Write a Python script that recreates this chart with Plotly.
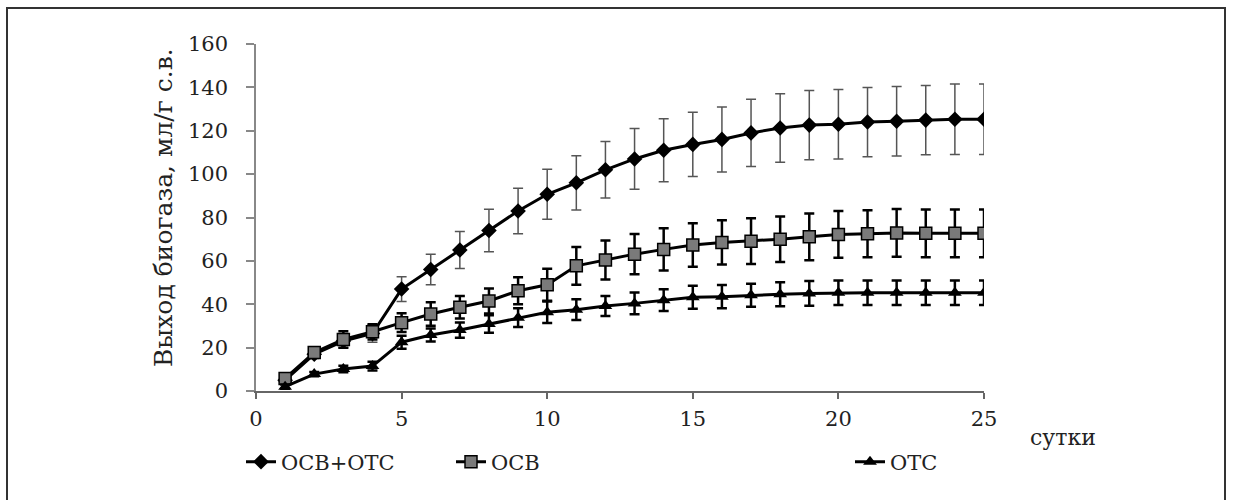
import plotly.graph_objects as go

days = list(range(1, 26))
osv_ots = [5, 17, 23, 26.5, 47, 56, 65, 74, 83, 90.7, 96, 102, 107, 111, 113.7, 116, 119, 121.3, 122.6, 123, 124, 124.4, 124.9, 125.3, 125.3]
osv_ots_err = [1, 2, 3, 4, 5.7, 7, 8.5, 9.8, 10.5, 11.5, 12.5, 13, 14, 14.5, 14.8, 15, 15.5, 15.8, 16, 16, 16, 16, 16, 16.2, 16.3]
osv = [5.8, 17.8, 23.8, 27.3, 31.5, 35.5, 38.6, 41.5, 46.2, 49, 57.7, 60.4, 63.1, 65.3, 67.3, 68.5, 69.1, 70, 71.1, 72.2, 72.5, 72.9, 72.7, 72.7, 72.7]
osv_err = [1, 2, 3.8, 3.5, 4.3, 5.4, 5.2, 5.8, 6.2, 7.4, 8.7, 9, 9.3, 9.7, 10, 10.2, 10.5, 10.5, 10.8, 10.8, 10.8, 11, 11, 11, 11]
ots = [2, 7.8, 10.1, 11.5, 22.5, 25.8, 28.1, 30.9, 33.8, 36.3, 37.5, 39.2, 40.4, 41.9, 43.2, 43.5, 44.2, 44.6, 45, 45.3, 45.3, 45.3, 45.3, 45.3, 45.3]
ots_err = [1, 1, 1.5, 2, 3, 3, 3.5, 4, 4.3, 5, 4.8, 4.6, 5, 5, 5.3, 5.4, 5.3, 5.5, 5.7, 5.7, 5.7, 5.7, 5.7, 5.7, 5.7]

names = ["ОСВ+ОТС", "ОСВ", "ОТС"]
x_ticks = [0, 5, 10, 15, 20, 25]
y_ticks = [0, 20, 40, 60, 80, 100, 120, 140, 160]

FONT = "DejaVu Serif"
TXT = "#222222"

fig = go.Figure()
fig.add_trace(go.Scatter(
    x=days, y=osv_ots, name=names[0], mode="lines+markers", showlegend=True,
    line=dict(color="black", width=3),
    marker=dict(symbol="diamond", size=12, color="black"),
    error_y=dict(type="data", array=osv_ots_err, color="#555555", thickness=1.5, width=5),
    legend="legend",
))
fig.add_trace(go.Scatter(
    x=days, y=osv, name=names[1], mode="lines+markers", showlegend=True,
    line=dict(color="black", width=3),
    marker=dict(symbol="square", size=12, color="#7a7a7a", line=dict(color="black", width=1.5)),
    error_y=dict(type="data", array=osv_err, color="black", thickness=2.5, width=5),
    legend="legend2",
))
fig.add_trace(go.Scatter(
    x=days, y=ots, name=names[2], mode="lines+markers", showlegend=True,
    line=dict(color="black", width=3),
    marker=dict(symbol="triangle-up", size=12, color="black"),
    error_y=dict(type="data", array=ots_err, color="black", thickness=2.5, width=5),
    legend="legend3",
))

L, R, T, B = 256, 984, 44, 391
W, H = 1233, 500

def px(xp):
    return (xp - L) / (R - L)

def py(yp):
    return (B - yp) / (B - T)

leg_font = dict(family=FONT, size=21, color=TXT)
fig.update_layout(
    width=W, height=H,
    showlegend=True,
    margin=dict(l=L, r=W - R, t=T, b=H - B),
    paper_bgcolor="white", plot_bgcolor="white",
    font=dict(family=FONT, color=TXT),
    legend=dict(x=px(241), y=py(462), xanchor="left", yanchor="middle", orientation="h",
                font=leg_font, bgcolor="rgba(0,0,0,0)"),
    legend2=dict(x=px(451), y=py(462), xanchor="left", yanchor="middle", orientation="h",
                 font=leg_font, bgcolor="rgba(0,0,0,0)"),
    legend3=dict(x=px(850), y=py(462), xanchor="left", yanchor="middle", orientation="h",
                 font=leg_font, bgcolor="rgba(0,0,0,0)"),
    xaxis=dict(range=[0, 25], tickvals=x_ticks, ticktext=[str(v) for v in x_ticks],
               showline=True, linecolor="#666666", linewidth=1.5,
               ticks="outside", ticklen=6, tickcolor="#666666", tickwidth=1.5,
               ticklabelstandoff=2,
               showgrid=False, zeroline=False,
               tickfont=dict(family=FONT, size=21, color=TXT)),
    yaxis=dict(range=[0, 160], tickvals=y_ticks, ticktext=[str(v) for v in y_ticks],
               showline=True, linecolor="#888888", linewidth=1.5,
               ticks="outside", ticklen=8, tickcolor="#888888", tickwidth=1.5,
               ticklabelstandoff=14,
               showgrid=False, zeroline=False,
               tickfont=dict(family=FONT, size=21, color=TXT)),
    annotations=[
        dict(text="Выход биогаза, мл/г с.в.", xref="paper", yref="paper",
             x=px(163), y=py(208), xanchor="center", yanchor="middle", textangle=-90,
             showarrow=False, font=dict(family=FONT, size=25, color=TXT)),
        dict(text="сутки", xref="paper", yref="paper",
             x=px(1063), y=py(437), xanchor="center", yanchor="middle",
             showarrow=False, font=dict(family=FONT, size=22, color=TXT)),
    ],
    shapes=[
        dict(type="rect", xref="paper", yref="paper",
             x0=px(7), x1=px(1225), y0=py(530), y1=py(8),
             line=dict(color="#333333", width=2), layer="below"),
    ],
)

fig.write_html("out.html", config={"displayModeBar": False},
               post_script="document.body.style.margin='0';document.body.style.padding='0';")
